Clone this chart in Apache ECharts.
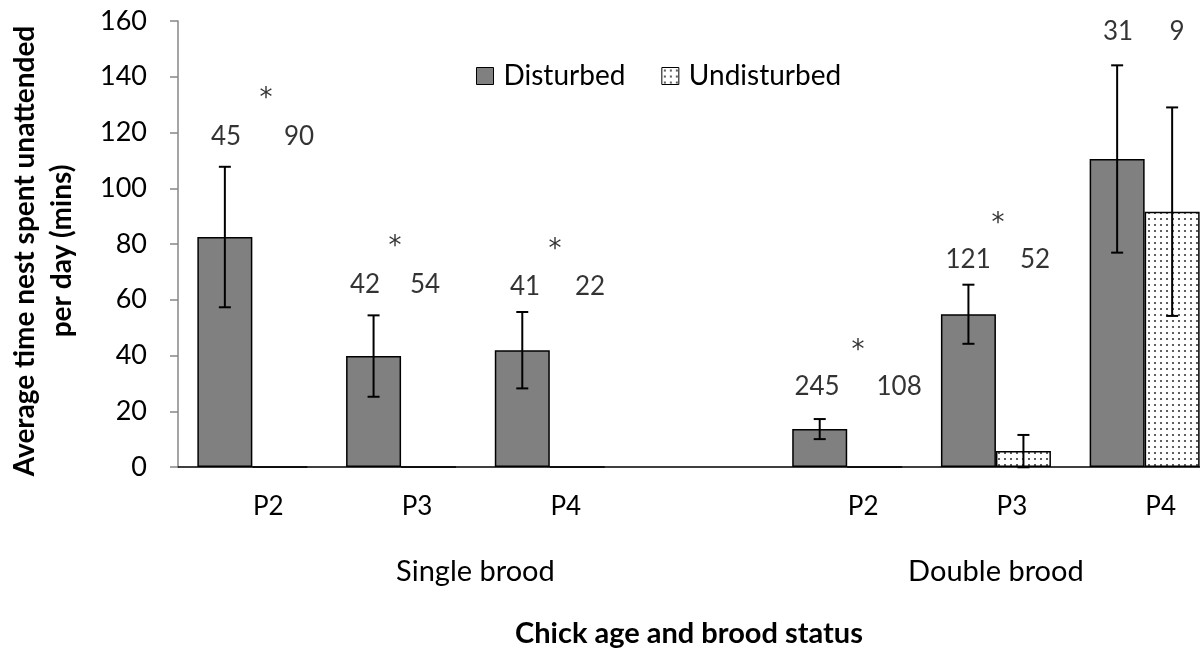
<!DOCTYPE html>
<html>
<head>
<meta charset="utf-8">
<script src="https://cdn.jsdelivr.net/npm/echarts@6/dist/echarts.min.js"></script>
<style>html,body{margin:0;padding:0;background:#fff}#c{width:1200px;height:648px}</style>
</head>
<body>
<div id="c"></div>
<script>
// ---- data ----
var categories = ['P2', 'P3', 'P4', '', 'P2', 'P3', 'P4'];
var broodLabels = ['Single brood', 'Double brood'];
var disturbed = [82.5, 39.8, 41.9, null, 13.6, 54.8, 110.5];
var disturbedErr = [25.2, 14.6, 13.7, null, 3.6, 10.6, 33.6];
var undisturbed = [0, 0, 0, null, 0, 5.7, 91.6];
var undisturbedErr = [null, null, null, null, null, 5.8, 37.4];
var yTicks = { min: 0, max: 160, interval: 20 };
// annotations: x in category units, y in data units, text
var annX = [0.323, 0.814, 0.592, 1.258, 1.661, 1.459, 2.334, 2.771, 2.535, 4.297, 4.849, 4.573, 5.313, 5.763, 5.514, 6.321, 6.718];
var annY = [118.4, 118.4, 132.0, 65.3, 65.3, 78.8, 64.7, 64.7, 77.6, 28.8, 28.8, 41.7, 74.3, 74.3, 87.2, 156.2, 156.2];
var annText = ['45', '90', '*', '42', '54', '*', '41', '22', '*', '245', '108', '*', '121', '52', '*', '31', '9'];

// ---- pattern ----
var pc = document.createElement('canvas');
pc.width = 6; pc.height = 6;
var g = pc.getContext('2d');
g.fillStyle = '#ffffff'; g.fillRect(0, 0, 6, 6);
g.fillStyle = '#3a3a3a';
g.beginPath(); g.arc(3, 3, 1.1, 0, Math.PI * 2); g.fill();
var dotPattern = { image: pc, repeat: 'repeat' };

var FONT = 'Lato';
var BAR_W = 55;

var brood15 = [];
for (var i = 0; i < 15; i++) brood15.push('');
brood15[4] = broodLabels[0];
brood15[11] = broodLabels[1];

function errData(vals, errs) {
  var out = [];
  for (var i = 0; i < vals.length; i++) {
    if (errs[i] != null) out.push([i, vals[i] - errs[i], vals[i] + errs[i]]);
  }
  return out;
}
function errRender(offset) {
  return function (params, api) {
    var lo = api.coord([api.value(0), api.value(1)]);
    var hi = api.coord([api.value(0), api.value(2)]);
    var x = lo[0] + offset;
    var cap = 6;
    return {
      type: 'group',
      children: [
        { type: 'line', shape: { x1: x, y1: lo[1], x2: x, y2: hi[1] }, style: { stroke: '#000', lineWidth: 2 } },
        { type: 'line', shape: { x1: x - cap, y1: lo[1], x2: x + cap, y2: lo[1] }, style: { stroke: '#000', lineWidth: 2 } },
        { type: 'line', shape: { x1: x - cap, y1: hi[1], x2: x + cap, y2: hi[1] }, style: { stroke: '#000', lineWidth: 2 } }
      ]
    };
  };
}

var annData = annX.map(function (x, i) { return [x, annY[i], annText[i]]; });

var chart = echarts.init(document.getElementById('c'), null, { renderer: 'canvas' });
chart.setOption({
  animation: false,
  backgroundColor: '#fff',
  textStyle: { fontFamily: FONT },
  grid: { left: 178, top: 21, width: 1041, height: 446, containLabel: false, outerBoundsMode: 'none' },
  legend: {
    left: 471, top: 57,
    itemWidth: 17, itemHeight: 17, itemGap: 36,
    icon: 'rect',
    textStyle: { fontFamily: FONT, fontSize: 28, color: '#000', padding: [0, 0, 0, 5] },
    data: [
      { name: 'Disturbed', itemStyle: { color: '#808080', borderColor: '#000', borderWidth: 1 } },
      { name: 'Undisturbed', itemStyle: { color: dotPattern, borderColor: '#000', borderWidth: 1 } }
    ]
  },
  xAxis: [
    {
      type: 'category', data: categories, gridIndex: 0,
      axisLine: { lineStyle: { color: '#000', width: 1.5 } },
      axisTick: { show: false },
      axisLabel: { interval: 0, margin: 27, fontSize: 26, color: '#000', fontFamily: FONT, padding: [0, 0, 0, 32] }
    },
    {
      type: 'category', data: brood15, gridIndex: 0, boundaryGap: false, position: 'bottom',
      axisLine: { show: false }, axisTick: { show: false },
      axisLabel: { interval: 0, margin: 90, fontSize: 29, color: '#000', fontFamily: FONT }
    },
    { type: 'value', min: 0, max: 7, show: false, gridIndex: 0 }
  ],
  yAxis: {
    type: 'value', min: yTicks.min, max: yTicks.max, interval: yTicks.interval,
    axisLine: { show: true, lineStyle: { color: '#868686', width: 1.5 } },
    axisTick: { show: true, inside: false, length: 8, lineStyle: { color: '#868686', width: 1.5 } },
    splitLine: { show: false },
    axisLabel: { margin: 31, fontSize: 27, color: '#000', fontFamily: FONT }
  },
  series: [
    {
      name: 'Disturbed', type: 'bar', data: disturbed, barWidth: BAR_W, barGap: '0%',
      itemStyle: { color: '#808080', borderColor: '#000', borderWidth: 1.5 }
    },
    {
      name: 'Undisturbed', type: 'bar', data: undisturbed, barWidth: BAR_W, barGap: '0%',
      itemStyle: { color: dotPattern, borderColor: '#000', borderWidth: 1.5 }
    },
    {
      type: 'custom', renderItem: errRender(-BAR_W / 2), data: errData(disturbed, disturbedErr),
      encode: { x: 0, y: [1, 2] }, z: 5, silent: true
    },
    {
      type: 'custom', renderItem: errRender(BAR_W / 2), data: errData(undisturbed, undisturbedErr),
      encode: { x: 0, y: [1, 2] }, z: 5, silent: true
    },
    {
      type: 'scatter', xAxisIndex: 2, data: annData, symbolSize: 0, silent: true, z: 6,
      label: {
        show: true, position: 'inside', color: '#000', fontSize: 26, fontFamily: FONT,
        formatter: function (p) { return p.data[2] === '*' ? '{a|*}' : p.data[2]; },
        rich: { a: { fontFamily: 'DejaVu Sans', fontSize: 26, color: '#000' } }
      }
    }
  ],
  graphic: [
    {
      type: 'text', x: 43, y: 251, rotation: Math.PI / 2,
      style: {
        text: 'Average time nest spent unattended\nper day (mins)',
        fontFamily: FONT, fontWeight: 'bold', fontSize: 28, lineHeight: 37,
        fill: '#000', textAlign: 'center', textVerticalAlign: 'middle'
      }
    },
    {
      type: 'text', x: 689, y: 634,
      style: {
        text: 'Chick age and brood status',
        fontFamily: FONT, fontWeight: 'bold', fontSize: 29,
        fill: '#000', textAlign: 'center', textVerticalAlign: 'middle'
      }
    }
  ]
});
</script>
</body>
</html>
